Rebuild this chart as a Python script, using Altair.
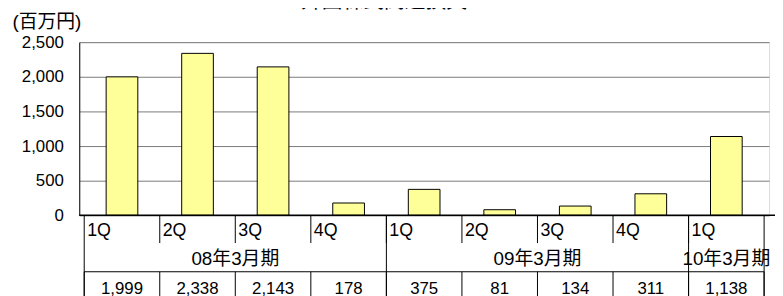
import altair as alt
import pandas as pd

title_text = "外国株式関連損失"
unit_label = "(百万円)"
quarters = ["1Q", "2Q", "3Q", "4Q", "1Q", "2Q", "3Q", "4Q", "1Q"]
values = [1999, 2338, 2143, 178, 375, 81, 134, 311, 1138]
periods = ["08年3月期", "09年3月期", "10年3月期"]
period_start = [0, 4, 8]
period_end = [4, 8, 9]
y_ticks = [0, 500, 1000, 1500, 2000, 2500]

FONT = "Liberation Sans, Arial, Noto Sans CJK JP"
FS = 17
FSJ = 19

df = pd.DataFrame({"idx": list(range(len(values))), "q": quarters, "v": values})
df["c"] = df["idx"] + 0.5
gdf = pd.DataFrame({"p": periods, "start": period_start, "end": period_end})
gdf["mid"] = (gdf["start"] + gdf["end"]) / 2
bounds = pd.DataFrame({"b": list(range(len(values) + 1))})
inner = pd.DataFrame({"b": list(range(1, len(values)))})
tdf = pd.DataFrame({"t": [title_text]})

xs = alt.Scale(domain=[0, len(values)], nice=False, zero=False)
W, H = 697, 175

bars = alt.Chart(df).mark_bar(size=32, fill="#ffff99", stroke="black", strokeWidth=1).encode(
    x=alt.X("c:Q", scale=xs, axis=None),
    y=alt.Y("v:Q", scale=alt.Scale(domain=[0, 2500], nice=False),
            axis=alt.Axis(values=y_ticks, format=",.0f", labelFontSize=FS, labelFont=FONT,
                          labelColor="black", grid=True, gridColor="#7a7a7a", domain=True,
                          domainColor="black", ticks=False, labelPadding=16,
                          title=unit_label, titleAngle=0, titleAlign="left",
                          titleBaseline="middle", titleX=-68, titleY=-21,
                          titleFontWeight="normal", titleFontSize=FSJ, titleFont=FONT,
                          titleColor="black")),
)

qlabels = alt.Chart(df).mark_text(align="left", baseline="middle", dx=3, fontSize=18,
                                  font=FONT, color="black").encode(
    x=alt.X("idx:Q", scale=xs), y=alt.value(191), text="q:N")

vlabels = alt.Chart(df).mark_text(align="center", baseline="middle", fontSize=FS,
                                  font=FONT, color="black").encode(
    x=alt.X("c:Q", scale=xs), y=alt.value(249), text=alt.Text("v:Q", format=","))

glabels = alt.Chart(gdf).mark_text(align="center", baseline="middle", fontSize=FSJ,
                                   font=FONT, color="black").encode(
    x=alt.X("mid:Q", scale=xs), y=alt.value(219), text="p:N")

div_top = alt.Chart(inner).mark_rule(color="black", strokeWidth=1).encode(
    x=alt.X("b:Q", scale=xs), y=alt.value(175), y2=alt.value(203))
div_bot = alt.Chart(bounds).mark_rule(color="black", strokeWidth=1).encode(
    x=alt.X("b:Q", scale=xs), y=alt.value(232), y2=alt.value(262))
div_grp = alt.Chart(pd.concat([gdf[["start"]].rename(columns={"start": "b"}),
                               pd.DataFrame({"b": [len(values)]})])).mark_rule(
    color="black", strokeWidth=1).encode(
    x=alt.X("b:Q", scale=xs), y=alt.value(175), y2=alt.value(262))
hline = alt.Chart(gdf).mark_rule(color="black", strokeWidth=1).encode(
    x=alt.X("start:Q", scale=xs), x2="end:Q", y=alt.value(232))
baseline = alt.Chart(tdf).mark_rule(color="black", strokeWidth=1.5).encode(
    x=alt.value(0), x2=alt.value(W + 6), y=alt.value(H))
title = alt.Chart(tdf).mark_text(align="center", baseline="alphabetic", fontSize=21,
                                 font=FONT, color="black").encode(
    x=alt.value(308), y=alt.value(-35), text="t:N")

chart = alt.layer(bars, baseline, div_top, div_bot, div_grp, hline, qlabels, vlabels,
                  glabels, title).properties(
    width=W, height=H,
    autosize=alt.AutoSizeParams(type="none"),
    padding={"left": 72, "top": 33, "right": 6, "bottom": 80},
).configure_view(fill="#dedede", stroke="#808080", strokeWidth=1).configure(background="white")

chart.save("out.html", embed_options={"renderer": "svg", "actions": False})
